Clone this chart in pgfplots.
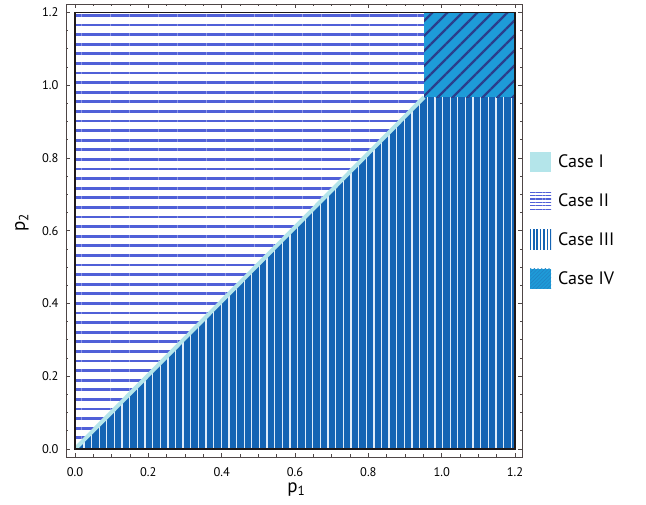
\documentclass[border=0pt]{standalone}
\usepackage{pgfplots}
\pgfplotsset{compat=1.18}
\usepackage{fontspec}
\setmainfont{PT Sans}
\usetikzlibrary{patterns.meta}

\definecolor{cI}{RGB}{180,229,234}
\definecolor{cIIline}{RGB}{80,96,216}
\definecolor{cIIIbg}{RGB}{20,100,180}
\definecolor{cIIIline}{RGB}{222,236,250}
\definecolor{cIVbg}{RGB}{30,155,216}
\definecolor{cIVline}{RGB}{42,62,140}
\definecolor{framec}{RGB}{78,70,70}
\definecolor{edgec}{RGB}{30,24,24}

\begin{document}
\begin{tikzpicture}
\path[use as bounding box] (-66pt,-48pt) rectangle (580pt,457pt);
\begin{axis}[
  scale only axis, width=456pt, height=453pt,
  at={(0pt,0pt)}, anchor=south west,
  xmin=-0.0245, xmax=1.219, ymin=-0.022, ymax=1.223,
  axis on top,
  axis line style={framec, line width=0.9pt},
  tick style={framec, line width=0.7pt},
  tick align=inside, tick pos=both,
  major tick length=4pt, minor tick length=2.5pt,
  xtick={0,0.2,0.4,0.6,0.8,1.0,1.2},
  xticklabels={0.0,0.2,0.4,0.6,0.8,1.0,1.2},
  ytick={0,0.2,0.4,0.6,0.8,1.0,1.2},
  yticklabels={0.0,0.2,0.4,0.6,0.8,1.0,1.2},
  minor x tick num=3, minor y tick num=3,
  tick label style={font=\fontsize{12.5}{14}\selectfont, text=black},
  xticklabel style={yshift=-7pt},
  yticklabel style={xshift=-4pt},
  xlabel={p\textsubscript{1}}, ylabel={p\textsubscript{2}},
  label style={font=\fontsize{19}{21}\selectfont},
  xlabel style={at={(axis description cs:0.505,-0.0773)}, anchor=base},
  ylabel style={at={(axis description cs:-0.09,0.518)}, anchor=base},
  legend style={draw=none, fill=none, at={(axis description cs:1.0175,0.523)}, anchor=west,
    inner sep=0pt, row sep=19pt, font=\fontsize{18}{20}\selectfont,
    nodes={inner sep=0pt},
    /tikz/every odd column/.append style={column sep=7pt}},
  legend cell align=left,
]
% Case III (below diagonal, plus lower-right block)
\addplot[draw=none, fill=cIIIbg, forget plot,
  postaction={pattern={Lines[angle=90,distance=7.63pt,line width=1.3pt]}, pattern color=cIIIline}]
  coordinates {(0,0) (1.2,0) (1.2,0.967) (0.952,0.967)} -- cycle;
% Case II (above diagonal)
\addplot[draw=none, fill=white, forget plot,
  postaction={pattern={Lines[angle=0,distance=9.6pt,line width=2.7pt]}, pattern color=cIIline}]
  coordinates {(0,0) (0.952,0.967) (0.952,1.2) (0,1.2)} -- cycle;
% Case IV (upper-right block)
\addplot[draw=none, fill=cIVbg, forget plot,
  postaction={pattern={Lines[angle=45,distance=10.6pt,line width=2.2pt]}, pattern color=cIVline}]
  coordinates {(0.952,0.967) (1.2,0.967) (1.2,1.2) (0.952,1.2)} -- cycle;
% Case I (thin band along the diagonal)
\addplot[cI, line width=4pt, forget plot] coordinates {(0.002,0.002) (0.952,0.967)};
% region edge
\addplot[edgec, line width=1.3pt, forget plot] coordinates {(0,0) (1.2,0) (1.2,1.2) (0,1.2)} -- cycle;

\addlegendimage{legend image code/.code={\fill[cI, draw=none] (0pt,-10pt) rectangle (21pt,10pt);}}
\addlegendentry{Case I}
\addlegendimage{legend image code/.code={
  \fill[white, draw=none] (0pt,-10pt) rectangle (21pt,10pt);
  \fill[draw=none, pattern={Lines[angle=0,distance=3.4pt,line width=1.3pt]}, pattern color=cIIline] (0pt,-10pt) rectangle (21pt,10pt);}}
\addlegendentry{Case II}
\addlegendimage{legend image code/.code={
  \fill[white, draw=none] (0pt,-10pt) rectangle (21pt,10pt);
  \fill[draw=none, pattern={Lines[angle=90,distance=3.4pt,line width=1.5pt]}, pattern color=cIIIbg] (0pt,-10pt) rectangle (21pt,10pt);}}
\addlegendentry{Case III}
\addlegendimage{legend image code/.code={
  \fill[cIVbg, draw=none] (0pt,-10pt) rectangle (21pt,10pt);
  \fill[draw=none, pattern={Lines[angle=45,distance=2.6pt,line width=0.6pt]}, pattern color=cIVbg!75!cIVline] (0pt,-10pt) rectangle (21pt,10pt);}}
\addlegendentry{Case IV}
\end{axis}
\end{tikzpicture}
\end{document}
